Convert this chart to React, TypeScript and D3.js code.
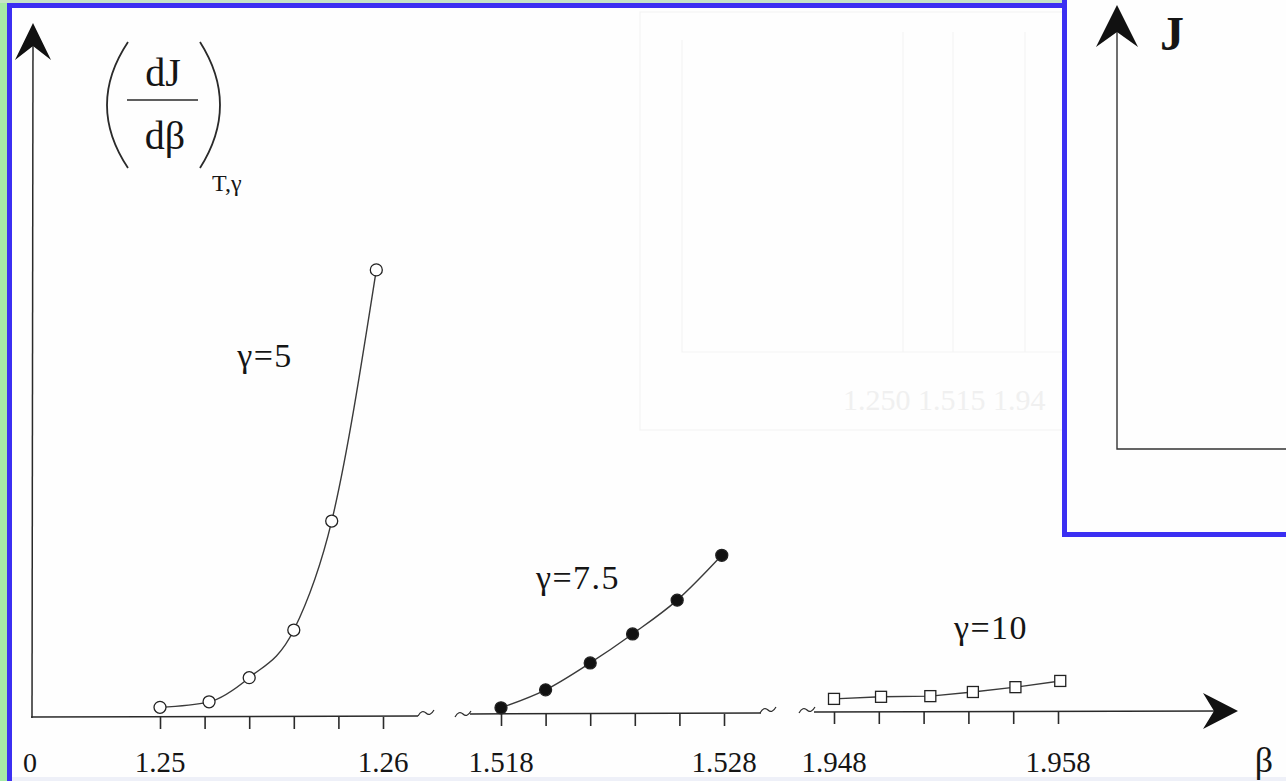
import React, { useRef, useEffect } from "react";
import * as d3 from "d3";

// gamma = 5 (open circles)
const beta5 = [1.25, 1.2522, 1.254, 1.256, 1.2577, 1.2597];
const dj5 = [0.14, 0.22, 0.57, 1.26, 2.84, 6.48];
// gamma = 7.5 (filled circles)
const beta75 = [1.518, 1.52, 1.522, 1.5239, 1.5259, 1.5279];
const dj75 = [0.09, 0.35, 0.74, 1.16, 1.65, 2.3];
// gamma = 10 (open squares)
const beta10 = [1.948, 1.9501, 1.9523, 1.9542, 1.9561, 1.9581];
const dj10 = [0.19, 0.22, 0.23, 0.29, 0.36, 0.45];

const ticks1 = [1.25, 1.252, 1.254, 1.256, 1.258, 1.26];
const ticks2 = [1.518, 1.52, 1.522, 1.524, 1.526, 1.528];
const ticks3 = [1.948, 1.95, 1.952, 1.954, 1.956, 1.958];
const tickLabels1 = ["1.25", "1.26"];
const tickLabels2 = ["1.518", "1.528"];
const tickLabels3 = ["1.948", "1.958"];

const W = 1286;
const H = 781;
const FONT = "'Liberation Serif', 'Times New Roman', serif";
const INK = "#2a2a2a";
const BLUE = "#3b2ff2";

const App = () => {
  const svgRef = useRef<SVGSVGElement>(null);

  useEffect(() => {
    const svg = d3.select(svgRef.current);
    svg.selectAll("*").remove();

    // page frame
    svg.append("rect").attr("width", W).attr("height", H).attr("fill", "#fefefe");
    svg.append("rect").attr("x", 0).attr("y", 0).attr("width", 8).attr("height", H).attr("fill", "#a6eaa6");
    svg.append("rect").attr("x", 0).attr("y", 0).attr("width", 1065).attr("height", 3).attr("fill", "#c6e4c6");
    svg.append("rect").attr("x", 7).attr("y", 3).attr("width", 1058).attr("height", 5).attr("fill", BLUE);
    svg.append("rect").attr("x", 7).attr("y", 3).attr("width", 5).attr("height", H).attr("fill", BLUE);
    svg.append("rect").attr("x", 12).attr("y", 777).attr("width", W).attr("height", 4).attr("fill", "#eef0f8");

    // faint ghost of the page underneath
    const ghost = svg.append("g").attr("stroke", "#f3f3f3").attr("fill", "none").attr("stroke-width", 1.2);
    ghost.append("rect").attr("x", 640).attr("y", 12).attr("width", 430).attr("height", 418);
    ghost.append("path").attr("d", "M682,40 V352 H1062");
    [903, 953, 1025].forEach((x) => ghost.append("line").attr("x1", x).attr("x2", x).attr("y1", 32).attr("y2", 352));
    svg.append("text").attr("x", 843).attr("y", 410).attr("font-family", FONT).attr("font-size", 30)
      .attr("fill", "#f0f0f0").text("1.250 1.515 1.94");

    const y = d3.scaleLinear().domain([0, 10]).range([0, -690]);

    const segments = [
      { betas: beta5, vals: dj5, ticks: ticks1, labels: tickLabels1, range: [160, 383], base: 717, marker: "open" },
      { betas: beta75, vals: dj75, ticks: ticks2, labels: tickLabels2, range: [501, 724], base: 714, marker: "filled" },
      { betas: beta10, vals: dj10, ticks: ticks3, labels: tickLabels3, range: [834, 1058], base: 712, marker: "square" },
    ];

    const squiggle = (x0: number, yb: number) =>
      `M${x0},${yb} q4,-7 8,-3 q4,4 8,-3`;

    const axisG = svg.append("g").attr("stroke", INK).attr("fill", "none").attr("stroke-width", 1.5);
    // baselines
    axisG.append("line").attr("x1", 31).attr("x2", 418).attr("y1", 717).attr("y2", 716);
    axisG.append("path").attr("d", squiggle(418, 716)).attr("stroke-width", 1.2);
    axisG.append("path").attr("d", squiggle(455, 717)).attr("stroke-width", 1.2);
    axisG.append("line").attr("x1", 470).attr("x2", 761).attr("y1", 714).attr("y2", 713);
    axisG.append("path").attr("d", squiggle(760, 713)).attr("stroke-width", 1.2);
    axisG.append("path").attr("d", squiggle(799, 713)).attr("stroke-width", 1.2);
    axisG.append("line").attr("x1", 814).attr("x2", 1220).attr("y1", 712).attr("y2", 711);
    // y axis
    axisG.append("line").attr("x1", 32).attr("x2", 33).attr("y1", 718).attr("y2", 40);

    svg.append("path").attr("d", "M33,23 L15,60 L33,46 L51,60 Z").attr("fill", "#111");
    svg.append("path").attr("d", "M1238,711 L1203,693 L1214,711 L1203,729 Z").attr("fill", "#111");

    const lbl = (x: number, yy: number, t: string, size = 28, anchor = "middle") =>
      svg.append("text").attr("x", x).attr("y", yy).attr("font-family", FONT).attr("font-size", size)
        .attr("text-anchor", anchor).attr("fill", "#151515").text(t);

    lbl(30, 772, "0");
    lbl(1264, 772, "β", 36);

    segments.forEach((s) => {
      const x = d3.scaleLinear().domain([s.ticks[0], s.ticks[s.ticks.length - 1]]).range(s.range);
      const g = svg.append("g").attr("transform", `translate(0,${s.base})`);
      const ax = d3.axisBottom(x).tickValues(s.ticks).tickSize(12).tickFormat(() => "");
      const axg = g.append("g").call(ax);
      axg.select(".domain").remove();
      axg.selectAll("line").attr("stroke", INK).attr("stroke-width", 1.6);

      lbl(x(s.ticks[0]), 772, s.labels[0], 29);
      lbl(x(s.ticks[s.ticks.length - 1]), 772, s.labels[1], 29);

      const pts = s.betas.map((b, i) => [b, s.vals[i]] as [number, number]);
      const line = d3.line<[number, number]>()
        .x((d) => x(d[0]))
        .y((d) => y(d[1]))
        .curve(s.marker === "square" ? d3.curveLinear : d3.curveMonotoneX);
      g.append("path").datum(pts).attr("fill", "none").attr("stroke", "#3a3a3a").attr("stroke-width", 1.4).attr("d", line);

      if (s.marker === "square") {
        g.selectAll("rect.m").data(pts).join("rect").attr("class", "m")
          .attr("x", (d) => x(d[0]) - 5.5).attr("y", (d) => y(d[1]) - 5.5)
          .attr("width", 11).attr("height", 11)
          .attr("fill", "#fff").attr("stroke", "#222").attr("stroke-width", 1.3);
      } else {
        g.selectAll("circle.m").data(pts).join("circle").attr("class", "m")
          .attr("cx", (d) => x(d[0])).attr("cy", (d) => y(d[1])).attr("r", 6)
          .attr("fill", s.marker === "filled" ? "#111" : "#fff").attr("stroke", "#222").attr("stroke-width", 1.3);
      }
    });

    lbl(265, 367, "γ=5", 34).attr("letter-spacing", 1.5);
    lbl(578, 589, "γ=7.5", 34).attr("letter-spacing", 1.5);
    lbl(991, 639, "γ=10", 34).attr("letter-spacing", 1.5);

    // y-axis label (dJ/dβ)_{T,γ}
    const yl = svg.append("g");
    yl.append("path").attr("d", "M128,42 Q86,105 128,168").attr("fill", "none").attr("stroke", INK).attr("stroke-width", 1.8);
    yl.append("path").attr("d", "M200,42 Q240,105 200,168").attr("fill", "none").attr("stroke", INK).attr("stroke-width", 1.8);
    yl.append("line").attr("x1", 127).attr("x2", 198).attr("y1", 100).attr("y2", 100).attr("stroke", INK).attr("stroke-width", 1.5);
    lbl(163, 86, "dJ", 40);
    lbl(165, 149, "dβ", 40);
    lbl(212, 191, "T,γ", 24, "start");

    // inset panel
    svg.append("rect").attr("x", 1062).attr("y", -10).attr("width", 240).attr("height", 547).attr("fill", "#fefefe");
    svg.append("rect").attr("x", 1062).attr("y", -10).attr("width", 5).attr("height", 547).attr("fill", BLUE);
    svg.append("rect").attr("x", 1062).attr("y", 532).attr("width", 240).attr("height", 5).attr("fill", BLUE);
    svg.append("path").attr("d", "M1117,30 V449 H1290").attr("fill", "none").attr("stroke", "#333").attr("stroke-width", 1.4);
    svg.append("path").attr("d", "M1117,5 L1096,47 L1117,32 L1138,47 Z").attr("fill", "#111");
    lbl(1160, 50, "J", 48, "start").attr("font-weight", "bold");
  }, []);

  return (
    <div style={{ position: "absolute", left: 0, top: 0 }}>
      <svg ref={svgRef} width={W} height={H} style={{ display: "block" }} />
    </div>
  );
};

export default App;
